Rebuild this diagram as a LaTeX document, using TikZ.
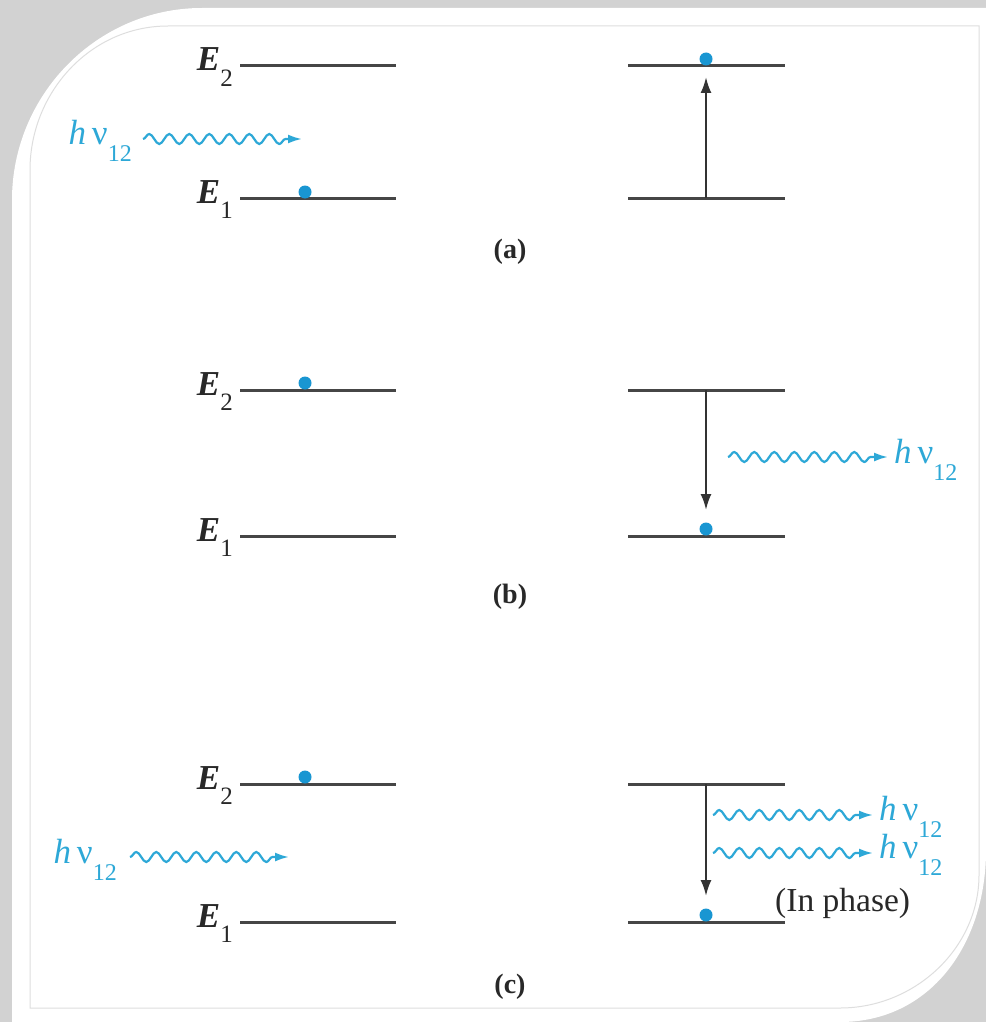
\documentclass[tikz,border=0pt]{standalone}
\usepackage{fontspec}
\setmainfont{Liberation Serif}
\usetikzlibrary{decorations.pathmorphing,arrows.meta}
\definecolor{photon}{RGB}{45,168,215}
\definecolor{dotc}{RGB}{25,150,210}
\definecolor{levelc}{RGB}{70,70,70}
\definecolor{bggray}{RGB}{210,210,210}
\definecolor{frameline}{RGB}{222,222,222}
\definecolor{txt}{RGB}{40,40,40}
\newcommand{\hnulab}{\textit{h}\,ν\raisebox{-0.5em}{\fontsize{24}{24}\selectfont 12}}
\newcommand{\Elab}[1]{\textit{\textbf{E}}\raisebox{-0.45em}{\fontsize{25}{25}\selectfont #1}}
\tikzset{
  lvl/.style={levelc, line width=3pt},
  trans/.style={draw=black!80, line width=2.2pt, -{Latex[length=16pt,width=11pt]}},
  wave/.style={photon, line width=2.2pt, decorate,
    decoration={snake, amplitude=5pt, segment length=20pt, post length=14pt},
    -{Latex[length=14pt,width=9pt]}},
  electron/.style={circle, fill=dotc, inner sep=0pt, minimum size=13pt},
  elab/.style={txt, font=\fontsize{35}{35}\selectfont, anchor=base east, inner sep=0pt},
  plab/.style={photon, font=\fontsize{35}{35}\selectfont, inner sep=0pt},
  tag/.style={txt, font=\bfseries\fontsize{28}{28}\selectfont, inner sep=0pt},
}
\begin{document}
\begin{tikzpicture}[x=1pt,y=-1pt]
\useasboundingbox (0,0) rectangle (986,1022);
% background and card
\fill[bggray] (0,0) rectangle (986,1022);
\fill[white] (12,1022) -- (12,200)
  .. controls (12,95) and (97,8) .. (202,8)
  -- (986,8) -- (986,850)
  .. controls (986,945) and (930,1022) .. (840,1022) -- cycle;
\draw[frameline, line width=1pt] (30,1008) -- (30,170)
  .. controls (30,93) and (90,26) .. (168,26)
  -- (979,26) -- (979,875)
  .. controls (979,948) and (915,1008) .. (840,1008) -- cycle;

% ---------- panel (a) ----------
\coordinate (a2L0) at (240,66);  \coordinate (a2L1) at (396,66);
\coordinate (a1L0) at (240,198); \coordinate (a1L1) at (396,198);
\coordinate (a2R0) at (628,66);  \coordinate (a2R1) at (785,66);
\coordinate (a1R0) at (628,198); \coordinate (a1R1) at (785,198);
\draw[lvl] (a2L0) -- (a2L1);
\draw[lvl] (a1L0) -- (a1L1);
\draw[lvl] (a2R0) -- (a2R1);
\draw[lvl] (a1R0) -- (a1R1);
\node[elab] (aE2) at (233,71) {\Elab{2}};
\node[elab] (aE1) at (233,203) {\Elab{1}};
\node[electron] (ael) at (305,192) {};
\node[electron] (aer) at (706,59) {};
\coordinate (aup0) at (706,198);
\coordinate (aup1) at (706,77);
\draw[trans] (aup0) -- (aup1);
\node[plab, anchor=base east] (ap) at (132,144) {\hnulab};
\coordinate (aw0) at (143,139); \coordinate (aw1) at (302,139);
\draw[wave] (aw0) -- (aw1);
\node[tag] (ta) at (510,252) {(a)};

% ---------- panel (b) ----------
\coordinate (b2L0) at (240,390); \coordinate (b2L1) at (396,390);
\coordinate (b1L0) at (240,536); \coordinate (b1L1) at (396,536);
\coordinate (b2R0) at (628,390); \coordinate (b2R1) at (785,390);
\coordinate (b1R0) at (628,536); \coordinate (b1R1) at (785,536);
\draw[lvl] (b2L0) -- (b2L1);
\draw[lvl] (b1L0) -- (b1L1);
\draw[lvl] (b2R0) -- (b2R1);
\draw[lvl] (b1R0) -- (b1R1);
\node[elab] (bE2) at (233,395) {\Elab{2}};
\node[elab] (bE1) at (233,541) {\Elab{1}};
\node[electron] (bel) at (305,383) {};
\node[electron] (ber) at (706,529) {};
\coordinate (bdn0) at (706,390);
\coordinate (bdn1) at (706,510);
\draw[trans] (bdn0) -- (bdn1);
\coordinate (bw0) at (728,457); \coordinate (bw1) at (888,457);
\draw[wave] (bw0) -- (bw1);
\node[plab, anchor=base west] (bp) at (894,463) {\hnulab};
\node[tag] (tb) at (510,597) {(b)};

% ---------- panel (c) ----------
\coordinate (c2L0) at (240,784); \coordinate (c2L1) at (396,784);
\coordinate (c1L0) at (240,922); \coordinate (c1L1) at (396,922);
\coordinate (c2R0) at (628,784); \coordinate (c2R1) at (785,784);
\coordinate (c1R0) at (628,922); \coordinate (c1R1) at (785,922);
\draw[lvl] (c2L0) -- (c2L1);
\draw[lvl] (c1L0) -- (c1L1);
\draw[lvl] (c2R0) -- (c2R1);
\draw[lvl] (c1R0) -- (c1R1);
\node[elab] (cE2) at (233,789) {\Elab{2}};
\node[elab] (cE1) at (233,927) {\Elab{1}};
\node[electron] (cel) at (305,777) {};
\node[electron] (cer) at (706,915) {};
\coordinate (cdn0) at (706,784);
\coordinate (cdn1) at (706,896);
\draw[trans] (cdn0) -- (cdn1);
\node[plab, anchor=base east] (cp) at (117,863) {\hnulab};
\coordinate (cw0) at (130,857); \coordinate (cw1) at (289,857);
\draw[wave] (cw0) -- (cw1);
\coordinate (cwa0) at (713,815); \coordinate (cwa1) at (873,815);
\draw[wave] (cwa0) -- (cwa1);
\node[plab, anchor=base west] (cpa) at (879,820) {\hnulab};
\coordinate (cwb0) at (713,853); \coordinate (cwb1) at (873,853);
\draw[wave] (cwb0) -- (cwb1);
\node[plab, anchor=base west] (cpb) at (879,858) {\hnulab};
\node[txt, anchor=base west, inner sep=0pt, font=\fontsize{33.5}{33.5}\selectfont] (inph) at (775,911) {(In phase)};
\node[tag] (tc) at (510,987) {(c)};
\end{tikzpicture}
\end{document}
